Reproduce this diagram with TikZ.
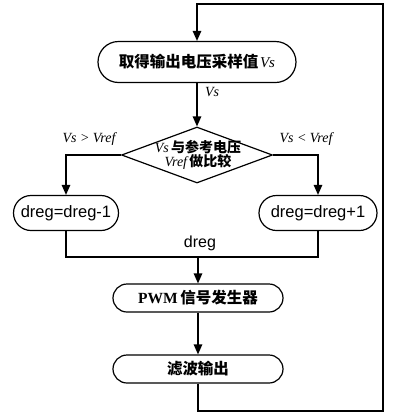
\documentclass[tikz,border=0pt]{standalone}
\usepackage{fontspec}
\setmainfont{Liberation Serif}
\setsansfont{Liberation Sans}
\newfontfamily\cjk{Noto Sans CJK SC}
\usetikzlibrary{shapes.misc,shapes.geometric,arrows.meta}
\begin{document}
\begin{tikzpicture}[x=1pt,y=-1pt,
  line width=1.3pt,
  arr/.style={-{Triangle[length=10pt,width=8.5pt]}},
  pill/.style={draw,rounded rectangle,inner sep=0pt,line width=1.2pt},
  lbl/.style={font=\itshape\fontsize{14}{14}\selectfont,inner sep=0pt},
]
\useasboundingbox (0,0) rectangle (392,416);
% nodes
\node[pill,minimum width=198pt,minimum height=41pt] (b1) at (197,62)
  {{\cjk\bfseries\fontsize{15.5}{15.5}\selectfont 取得输出电压采样值}\,{\itshape\fontsize{15}{15}\selectfont Vs}};
\node[draw,diamond,line width=1.2pt,inner sep=0pt,minimum width=151pt,minimum height=56pt] (d) at (197,155) {};
\node[align=center,inner sep=0pt,font=\fontsize{14}{14}\selectfont] (dt) at (198,155)
  {{\itshape Vs}\,{\cjk\bfseries 与参考电压}\\{\itshape Vref}\,{\cjk\bfseries 做比较}};
\node[pill,minimum width=105pt,minimum height=35pt,font=\sffamily\fontsize{16.5}{16.5}\selectfont] (bl) at (66,213) {dreg=dreg-1};
\node[pill,minimum width=118pt,minimum height=35pt,font=\sffamily\fontsize{16.5}{16.5}\selectfont] (br) at (318,213) {dreg=dreg+1};
\node[pill,minimum width=170pt,minimum height=28pt] (b3) at (198,298)
  {{\bfseries\fontsize{15.5}{15.5}\selectfont PWM} {\cjk\bfseries\fontsize{15.5}{15.5}\selectfont 信号发生器}};
\node[pill,minimum width=170pt,minimum height=28pt] (b4) at (198,369)
  {{\cjk\bfseries\fontsize{15.5}{15.5}\selectfont 滤波输出}};
% labels
\node[lbl] (lvs) at (212,92) {Vs};
\node[lbl] (lgt) at (89,139) {Vs > Vref};
\node[lbl] (llt) at (306,139) {Vs < Vref};
\node[font=\sffamily\fontsize{16}{16}\selectfont,inner sep=0pt] (ldreg) at (200,243) {dreg};
% coordinates
\coordinate (m) at (198,257);
\coordinate (c1) at (198,411);
\coordinate (c2) at (383,411);
\coordinate (c3) at (383,4);
\coordinate (c4) at (197,4);
% connectors
\draw[arr] (b1.south) -- (d.north);
\draw[arr] (d.west) -| (bl.north);
\draw[arr] (d.east) -| (br.north);
\draw (bl.south) |- (m) -| (br.south);
\draw[arr] (m) -- (b3.north);
\draw[arr] (b3.south) -- (b4.north);
\draw[arr] (b4.south) -- (c1) -- (c2) -- (c3) -- (c4) -- (b1.north);
\end{tikzpicture}
\end{document}
